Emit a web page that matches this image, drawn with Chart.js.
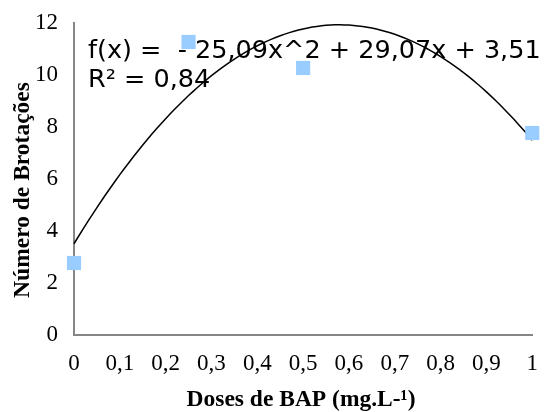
<!DOCTYPE html>
<html>
<head>
<meta charset="utf-8">
<script src="https://cdn.jsdelivr.net/npm/chart.js@4.4.1/dist/chart.umd.min.js"></script>
<style>
  html, body { margin: 0; padding: 0; background: #fff; }
  canvas { display: block; }
</style>
</head>
<body>
<canvas id="grafico" width="545" height="412"></canvas>
<script>
// dati
const doses = [0, 0.25, 0.5, 1];
const brotacoes = [2.77, 11.27, 10.27, 7.77];
// coefficienti della linea di tendenza (a*x^2 + b*x + c), come stampati nel grafico
const coefTendencia = [-25.09, 29.07, 3.51];
const testoEquazione = 'f(x) =  - 25,09x^2 + 29,07x + 3,51';
const testoR2 = 'R² = 0,84';
const titoloX = 'Doses de BAP (mg.L-¹)';
const titoloY = 'Número de Brotações';
const xTicks = [0, 0.1, 0.2, 0.3, 0.4, 0.5, 0.6, 0.7, 0.8, 0.9, 1];
const yTicks = [0, 2, 4, 6, 8, 10, 12];

// punti della curva di tendenza
const curva = [];
for (let i = 0; i <= 100; i++) {
    const x = i / 100;
    curva.push({ x: x, y: coefTendencia[0] * x * x + coefTendencia[1] * x + coefTendencia[2] });
}

const serif = "'Liberation Serif', 'Times New Roman', serif";
const sans = "'DejaVu Sans', sans-serif";

// testi: equazione e titoli degli assi
const testiPlugin = {
    id: 'testi',
    beforeDatasetsDraw(chart) {
        const ctx = chart.ctx;
        ctx.save();
        ctx.fillStyle = '#000';
        ctx.font = '25.5px ' + sans;
        ctx.textAlign = 'left';
        ctx.textBaseline = 'alphabetic';
        ctx.fillText(testoEquazione, 88, 58);
        ctx.fillText(testoR2, 88, 87);
        ctx.restore();
    },
    afterDraw(chart) {
        const ctx = chart.ctx;
        ctx.save();
        ctx.fillStyle = '#000';
        ctx.font = 'bold 23.5px ' + serif;
        ctx.textAlign = 'center';
        ctx.textBaseline = 'middle';
        ctx.fillText(titoloX, 301, 400);
        ctx.translate(23, 190);
        ctx.rotate(-Math.PI / 2);
        ctx.fillText(titoloY, 0, 0);
        ctx.restore();
    }
};

new Chart(document.getElementById('grafico'), {
    type: 'scatter',
    data: {
        datasets: [
            {
                label: 'Brotações',
                data: doses.map((d, i) => ({ x: d, y: brotacoes[i] })),
                pointStyle: 'rect',
                pointRadius: 10,
                pointHoverRadius: 10,
                backgroundColor: '#99ccff',
                borderWidth: 0,
                clip: false
            },
            {
                label: 'Tendência',
                data: curva,
                showLine: true,
                pointRadius: 0,
                borderColor: '#000',
                borderWidth: 1.5,
                fill: false,
                clip: false
            }
        ]
    },
    options: {
        responsive: false,
        animation: false,
        events: [],
        layout: { padding: { left: 0, top: 23, right: 12, bottom: 0 } },
        plugins: {
            legend: { display: false },
            tooltip: { enabled: false }
        },
        scales: {
            x: {
                type: 'linear',
                min: 0,
                max: 1,
                afterBuildTicks: (s) => { s.ticks = xTicks.map(v => ({ value: v })); },
                afterFit: (s) => { s.height = 77; },
                grid: { display: false },
                border: { display: true, color: '#868686', width: 2 },
                ticks: {
                    color: '#000',
                    padding: 7,
                    maxRotation: 0,
                    autoSkip: false,
                    font: { family: serif, size: 23 },
                    callback: (v) => String(v).replace('.', ',')
                }
            },
            y: {
                min: 0,
                max: 12,
                afterBuildTicks: (s) => { s.ticks = yTicks.map(v => ({ value: v })); },
                afterFit: (s) => { s.width = 74; },
                grid: { display: false },
                border: { display: true, color: '#868686', width: 2 },
                ticks: {
                    color: '#000',
                    padding: 8,
                    font: { family: serif, size: 23 }
                }
            }
        }
    },
    plugins: [testiPlugin]
});
</script>
</body>
</html>
